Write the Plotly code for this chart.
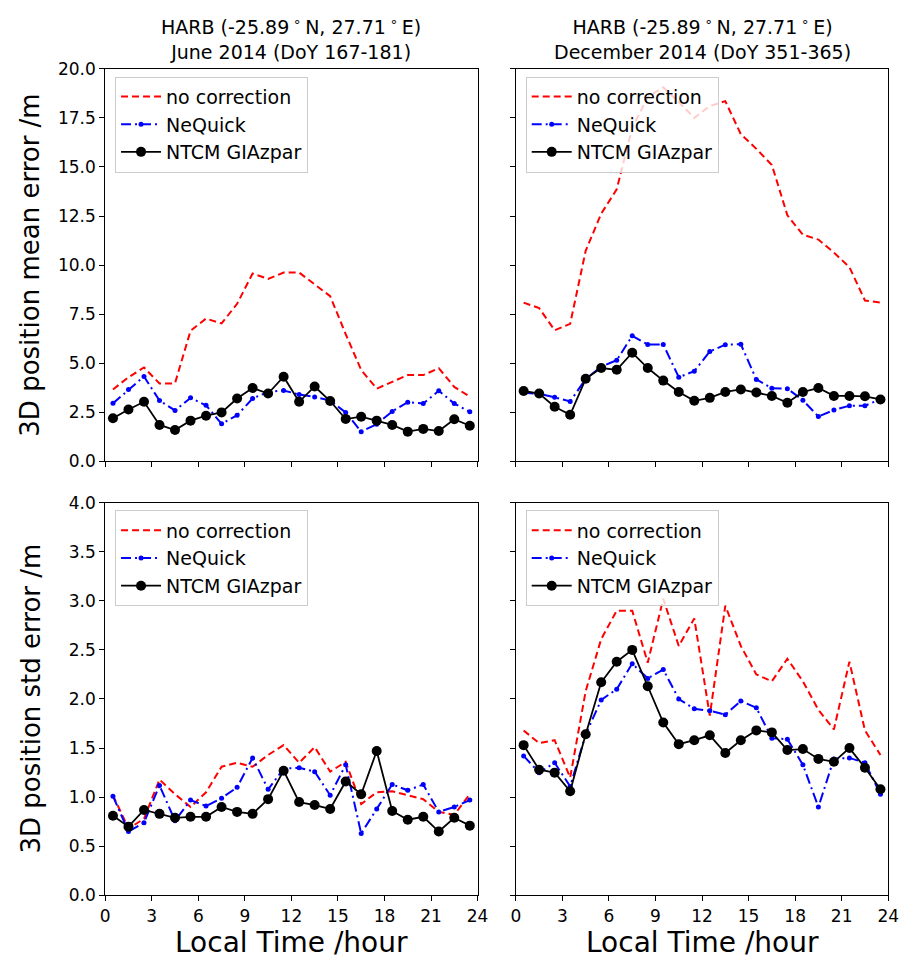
import plotly.graph_objects as go

W, H = 911, 970

hours = [h + 0.5 for h in range(24)]

# Top-left: June 2014, mean error
jun_mean_nocorr = [3.67, 4.29, 4.79, 3.97, 3.98, 6.66, 7.28, 7.03, 8.03, 9.57, 9.30, 9.62,
                   9.62, 9.01, 8.42, 6.49, 4.66, 3.71, 4.07, 4.40, 4.40, 4.75, 3.80, 3.30]
jun_mean_nequick = [2.96, 3.66, 4.33, 3.10, 2.60, 3.24, 2.86, 1.92, 2.35, 3.21, 3.54, 3.62,
                    3.41, 3.29, 3.10, 2.50, 1.52, 1.90, 2.55, 3.02, 2.95, 3.60, 2.95, 2.53]
jun_mean_ntcm = [2.20, 2.65, 3.04, 1.86, 1.60, 2.08, 2.33, 2.50, 3.21, 3.74, 3.46, 4.32,
                 3.04, 3.82, 3.08, 2.16, 2.28, 2.08, 1.86, 1.52, 1.66, 1.55, 2.15, 1.82]

# Top-right: December 2014, mean error
dec_mean_nocorr = [8.09, 7.81, 6.68, 7.01, 10.73, 12.62, 13.86, 17.0, 18.56, 19.06, 18.3, 17.5,
                   18.1, 18.35, 16.67, 15.92, 15.1, 12.54, 11.55, 11.3, 10.64, 9.9, 8.2, 8.09]
dec_mean_nequick = [3.50, 3.45, 3.27, 3.06, 4.20, 4.83, 5.16, 6.40, 5.96, 5.96, 4.29, 4.60,
                    5.60, 5.95, 5.97, 4.18, 3.73, 3.71, 3.12, 2.29, 2.62, 2.84, 2.84, 3.17]
dec_mean_ntcm = [3.59, 3.46, 2.79, 2.38, 4.21, 4.76, 4.67, 5.54, 4.76, 4.12, 3.54, 3.09,
                 3.24, 3.54, 3.67, 3.51, 3.34, 2.99, 3.54, 3.74, 3.34, 3.34, 3.32, 3.16]

# Bottom-left: June 2014, std error
jun_std_nocorr = [1.02, 0.68, 0.78, 1.18, 1.03, 0.90, 1.05, 1.31, 1.35, 1.31, 1.43, 1.53,
                  1.35, 1.51, 1.26, 1.36, 0.93, 1.05, 1.06, 1.02, 0.98, 0.85, 0.82, 1.03]
jun_std_nequick = [1.01, 0.65, 0.74, 1.12, 0.76, 0.97, 0.91, 0.99, 1.10, 1.40, 1.08, 1.29,
                   1.30, 1.26, 1.02, 1.33, 0.63, 0.88, 1.13, 1.07, 1.13, 0.85, 0.90, 0.97]
jun_std_ntcm = [0.81, 0.70, 0.87, 0.83, 0.79, 0.80, 0.80, 0.90, 0.85, 0.83, 0.98, 1.27,
                0.95, 0.92, 0.88, 1.16, 1.03, 1.47, 0.86, 0.77, 0.80, 0.65, 0.79, 0.71]

# Bottom-right: December 2014, std error
dec_std_nocorr = [1.68, 1.55, 1.58, 1.20, 2.08, 2.61, 2.90, 2.90, 2.37, 3.02, 2.54, 2.82,
                  1.83, 2.95, 2.54, 2.25, 2.18, 2.41, 2.18, 1.89, 1.69, 2.38, 1.68, 1.43]
dec_std_nequick = [1.42, 1.25, 1.35, 1.11, 1.64, 1.99, 2.10, 2.36, 2.21, 2.30, 2.00, 1.90,
                   1.88, 1.84, 1.98, 1.91, 1.60, 1.59, 1.33, 0.90, 1.39, 1.40, 1.35, 1.03]
dec_std_ntcm = [1.53, 1.28, 1.25, 1.06, 1.64, 2.17, 2.38, 2.50, 2.13, 1.76, 1.54, 1.58,
                1.63, 1.45, 1.58, 1.68, 1.66, 1.48, 1.49, 1.39, 1.36, 1.50, 1.30, 1.08]

series_names = ["no correction", "NeQuick", "NTCM GIAzpar"]
panel_titles = ["HARB (-25.89\u2009<sup>∘</sup>\u2009N, 27.71\u2009<sup>∘</sup>\u2009E)<br>June 2014 (DoY 167-181)",
                "HARB (-25.89\u2009<sup>∘</sup>\u2009N, 27.71\u2009<sup>∘</sup>\u2009E)<br>December 2014 (DoY 351-365)"]
ylabels = ["3D position mean error /m", "3D position std error /m"]
xlabel = "Local Time /hour"
x_ticks = [0, 3, 6, 9, 12, 15, 18, 21, 24]
top_ticks = [0.0, 2.5, 5.0, 7.5, 10.0, 12.5, 15.0, 17.5, 20.0]
bot_ticks = [0.0, 0.5, 1.0, 1.5, 2.0, 2.5, 3.0, 3.5, 4.0]

FONT = "DejaVu Sans"

def px_x(x):
    return x / W

def px_y(y):
    return 1 - y / H

# panel pixel boxes
cols = [(102, 481), (520, 899)]
rows = [(60, 461), (503, 904)]

fig = go.Figure()

panels = [
    (0, 0, jun_mean_nocorr, jun_mean_nequick, jun_mean_ntcm),
    (0, 1, dec_mean_nocorr, dec_mean_nequick, dec_mean_ntcm),
    (1, 0, jun_std_nocorr, jun_std_nequick, jun_std_ntcm),
    (1, 1, dec_std_nocorr, dec_std_nequick, dec_std_ntcm),
]

layout = dict(
    width=W, height=H, margin=dict(l=0, r=0, t=0, b=0),
    paper_bgcolor="white", plot_bgcolor="white",
    font=dict(family=FONT, color="black", size=17),
    annotations=[],
)

for i, (r, c, s_red, s_blue, s_black) in enumerate(panels):
    idx = i + 1
    xa = "xaxis" if idx == 1 else f"xaxis{idx}"
    ya = "yaxis" if idx == 1 else f"yaxis{idx}"
    xr = "x" if idx == 1 else f"x{idx}"
    yr = "y" if idx == 1 else f"y{idx}"
    lg = "legend" if idx == 1 else f"legend{idx}"

    fig.add_trace(go.Scatter(x=hours, y=s_red, name=series_names[0], mode="lines",
                             line=dict(color="#ff0000", width=2, dash="7px,4px"),
                             xaxis=xr, yaxis=yr, legend=lg))
    fig.add_trace(go.Scatter(x=hours, y=s_blue, name=series_names[1], mode="lines+markers",
                             line=dict(color="#0000ff", width=2, dash="10px,4px,2px,4px"),
                             marker=dict(color="#0000ff", size=5),
                             xaxis=xr, yaxis=yr, legend=lg))
    fig.add_trace(go.Scatter(x=hours, y=s_black, name=series_names[2], mode="lines+markers",
                             line=dict(color="black", width=1.8),
                             marker=dict(color="black", size=10),
                             xaxis=xr, yaxis=yr, legend=lg))

    x0, x1 = cols[c]
    y0, y1 = rows[r]
    layout[xa] = dict(
        domain=[px_x(x0), px_x(x1)], anchor=yr, range=[0, 24],
        tickmode="array", tickvals=x_ticks, showticklabels=(r == 1),
        ticks="outside", ticklen=5, tickcolor="black", tickwidth=1,
        showline=True, linecolor="black", linewidth=1, mirror=True,
        showgrid=False, zeroline=False, tickfont=dict(size=17),
    )
    tv = top_ticks if r == 0 else bot_ticks
    layout[ya] = dict(
        domain=[px_y(y1), px_y(y0)], anchor=xr, range=[tv[0], tv[-1]],
        tickmode="array", tickvals=tv, ticktext=[f"{v:.1f}" for v in tv],
        showticklabels=(c == 0),
        ticks="outside", ticklen=5, tickcolor="black", tickwidth=1,
        showline=True, linecolor="black", linewidth=1, mirror=True,
        showgrid=False, zeroline=False, tickfont=dict(size=17),
    )
    layout[lg] = dict(
        x=px_x(x0 + 10), y=px_y(y0 + 8), xanchor="left", yanchor="top",
        bgcolor="rgba(255,255,255,0.8)", bordercolor="#cccccc", borderwidth=1,
        font=dict(family=FONT, size=19, color="black"), itemwidth=40,
        tracegroupgap=0,
    )
    if r == 1:
        layout["annotations"].append(dict(
            text=xlabel, xref="paper", yref="paper",
            x=px_x((x0 + x1) / 2), y=px_y(952), xanchor="center", yanchor="middle",
            showarrow=False, font=dict(family=FONT, size=28)))
    if r == 0:
        layout["annotations"].append(dict(
            text=panel_titles[c], xref="paper", yref="paper",
            x=px_x((x0 + x1) / 2), y=px_y(y0 - 4), xanchor="center", yanchor="bottom",
            showarrow=False, font=dict(family=FONT, size=19)))
    if c == 0:
        layout["annotations"].append(dict(
            text=ylabels[r], xref="paper", yref="paper", textangle=-90,
            x=px_x(26), y=px_y((y0 + y1) / 2), xanchor="center", yanchor="middle",
            showarrow=False, font=dict(family=FONT, size=26)))

fig.update_layout(**layout)
fig.write_html("out.html")
